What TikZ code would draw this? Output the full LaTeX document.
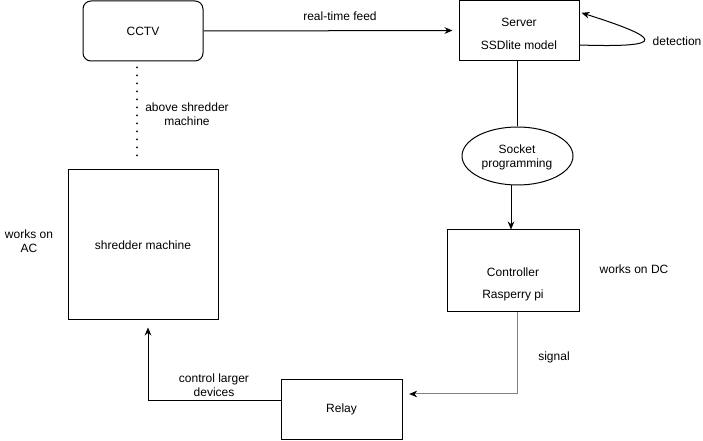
\documentclass[tikz,border=0pt]{standalone}
\usepackage{fontspec}
\setmainfont{Liberation Sans}
\usetikzlibrary{arrows.meta,shapes.geometric,calc}
\begin{document}
\begin{tikzpicture}[x=0.75pt,y=-0.75pt,
  every node/.style={font=\fontsize{9}{10.5}\selectfont, text=black},
  box/.style={draw, line width=0.75pt, inner sep=0pt},
  txt/.style={align=center, inner sep=0pt},
  arr/.style={-{Stealth[length=6pt,width=5pt]}, line width=0.75pt},
  ln/.style={line width=0.75pt}]
\useasboundingbox (0,0) rectangle (703,441);
% boxes
\node[box, rounded corners=6pt, minimum width=90pt, minimum height=45pt] (cctv) at (143,31) {CCTV};
\node[box, minimum width=90pt, minimum height=44.5pt] (server) at (519,30.5) {};
\node[txt] (servertxt) at (519,33.5) {Server\\[6.75pt]SSDlite model};
\node[box, ellipse, minimum width=83.25pt, minimum height=43.5pt] (socket) at (517.5,156) {};
\node[txt] (sockettxt) at (517,157.5) {Socket\\programming};
\node[box, minimum width=99pt, minimum height=61.5pt] (controller) at (513,271) {};
\node[txt] (controllertxt) at (513,284) {Controller\\[6pt]Rasperry pi};
\node[box, minimum width=112.5pt, minimum height=112.5pt] (shredder) at (143,245) {shredder machine};
\node[box, minimum width=90.75pt, minimum height=45pt] (relay) at (341.5,409.5) {Relay};
% labels
\node[txt] (feedlbl) at (340,16) {real-time feed};
\node[txt] (detlbl) at (677,41) {detection};
\node[txt] (abovelbl) at (187,114) {above shredder\\machine};
\node[txt] (ctrllbl) at (214,385) {control larger\\devices};
\node[txt] (siglbl) at (554,357) {signal};
\node[txt] (dclbl) at (634,269) {works on DC};
\node[txt] (aclbl) at (29,241) {works on\\AC};
% connectors
\draw[arr, shorten >=4.5pt] (cctv.east) -- (server.west);
\draw[arr] ($(server.east)+(0,14.5)$) .. controls +(91,3) and +(79,25) .. ($(server.north east)+(2,12.5)$);
\draw[ln] (socket.north |- server.south) -- (socket.north);
\draw[arr] ($(socket.south)+(-6.5,0)$) -- ($(controller.north)+(-2,0)$);
\draw[arr, draw=black!50, -{Stealth[length=6pt,width=5pt,color=black]}, shorten >=5pt] ($(controller.south)+(4,0)$) |- ($(relay.east)+(0,-15.5)$);
\draw[arr, shorten >=5.25pt] ($(relay.west)+(0,-8.5)$) -| ($(shredder.south)+(5,0)$);
\draw[line width=1.5pt, line cap=round, dash pattern=on 0pt off 6pt] ($(cctv.south)+(-6,6)$) -- ($(shredder.north)+(-6,-7)$);
\end{tikzpicture}
\end{document}
